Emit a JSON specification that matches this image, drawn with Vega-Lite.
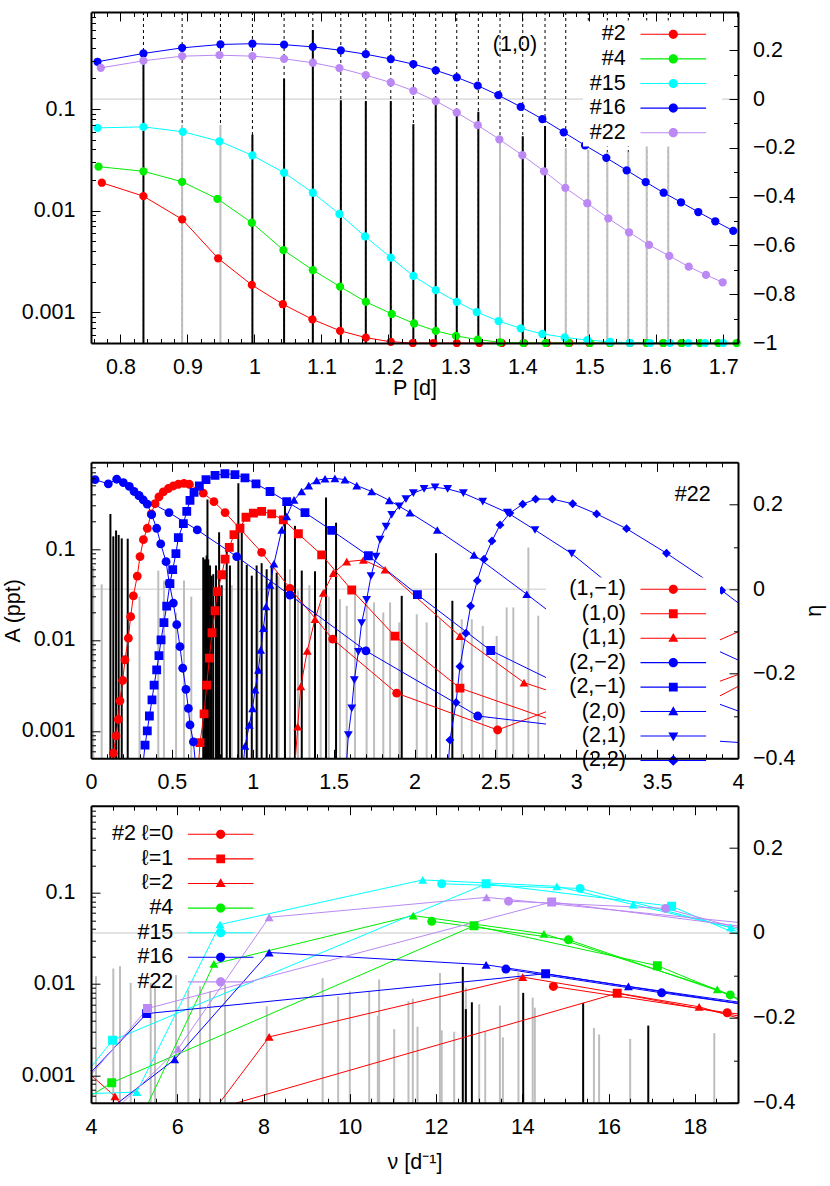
{
  "$schema": "https://vega.github.io/schema/vega-lite/v6.json",
  "background": "white",
  "padding": {"left": 2, "top": 11, "right": 2, "bottom": 2},
  "config": {
    "font": "Liberation Sans",
    "view": {"stroke": null},
    "axis": {"labelFont": "Liberation Sans", "labelFontSize": 21.5, "labelColor": "#000", "titleFont": "Liberation Sans", "titleFontSize": 21.5, "titleFontWeight": "normal", "titleColor": "#000", "tickColor": "#000", "tickWidth": 1, "domainColor": "#000", "domainWidth": 2, "grid": false, "labelFlush": false, "labelOverlap": false},
    "legend": {"labelFont": "Liberation Sans", "labelFontSize": 21.5, "labelColor": "#000"}
  },
  "datasets": {
    "top_amp": [
      {"P": 0.8921, "A": 0.07, "k": "g"}, {"P": 0.9493, "A": 0.07, "k": "g"}, {"P": 1.3667, "A": 0.054, "k": "g"}, {"P": 1.4648, "A": 0.041, "k": "g"}, {"P": 1.4985, "A": 0.04, "k": "g"}, {"P": 1.5269, "A": 0.038, "k": "g"}, {"P": 1.5582, "A": 0.038, "k": "g"}, {"P": 1.5857, "A": 0.046, "k": "g"}, {"P": 1.6179, "A": 0.052, "k": "g"},
      {"P": 0.8343, "A": 0.3, "k": "b"}, {"P": 0.997, "A": 0.056, "k": "b"}, {"P": 1.0443, "A": 0.198, "k": "b"}, {"P": 1.0872, "A": 0.6, "k": "b"}, {"P": 1.129, "A": 0.122, "k": "b"}, {"P": 1.1663, "A": 0.12, "k": "b"}, {"P": 1.2036, "A": 0.12, "k": "b"}, {"P": 1.2373, "A": 0.071, "k": "b"}, {"P": 1.2707, "A": 0.132, "k": "b"}, {"P": 1.3021, "A": 0.087, "k": "b"}, {"P": 1.3343, "A": 0.094, "k": "b"}, {"P": 1.4006, "A": 0.054, "k": "b"}, {"P": 1.4339, "A": 0.068, "k": "b"}
    ],
    "top_eta": [
      {"m": "#2", "P": 0.7722, "e": -0.343}, {"m": "#2", "P": 0.8343, "e": -0.398}, {"m": "#2", "P": 0.8921, "e": -0.493}, {"m": "#2", "P": 0.9458, "e": -0.653}, {"m": "#2", "P": 0.9961, "e": -0.762}, {"m": "#2", "P": 1.0424, "e": -0.841}, {"m": "#2", "P": 1.0866, "e": -0.903}, {"m": "#2", "P": 1.1279, "e": -0.95}, {"m": "#2", "P": 1.1663, "e": -0.978}, {"m": "#2", "P": 1.2036, "e": -0.995}, {"m": "#2", "P": 1.2364, "e": -1}, {"m": "#2", "P": 1.2672, "e": -1}, {"m": "#2", "P": 1.3021, "e": -1}, {"m": "#2", "P": 1.3358, "e": -1}, {"m": "#2", "P": 1.3693, "e": -1}, {"m": "#2", "P": 1.4025, "e": -1}, {"m": "#2", "P": 1.4364, "e": -1}, {"m": "#2", "P": 1.4701, "e": -1}, {"m": "#2", "P": 1.5, "e": -1}, {"m": "#2", "P": 1.5309, "e": -1}, {"m": "#2", "P": 1.5607, "e": -1}, {"m": "#2", "P": 1.5857, "e": -1}, {"m": "#2", "P": 1.6104, "e": -1}, {"m": "#2", "P": 1.6379, "e": -1},
      {"m": "#4", "P": 0.7672, "e": -0.277}, {"m": "#4", "P": 0.8343, "e": -0.296}, {"m": "#4", "P": 0.8921, "e": -0.339}, {"m": "#4", "P": 0.9448, "e": -0.409}, {"m": "#4", "P": 0.9961, "e": -0.507}, {"m": "#4", "P": 1.0433, "e": -0.619}, {"m": "#4", "P": 1.0872, "e": -0.701}, {"m": "#4", "P": 1.1279, "e": -0.769}, {"m": "#4", "P": 1.1663, "e": -0.831}, {"m": "#4", "P": 1.2051, "e": -0.881}, {"m": "#4", "P": 1.2384, "e": -0.92}, {"m": "#4", "P": 1.2707, "e": -0.95}, {"m": "#4", "P": 1.301, "e": -0.971}, {"m": "#4", "P": 1.3334, "e": -0.986}, {"m": "#4", "P": 1.3667, "e": -0.997}, {"m": "#4", "P": 1.4015, "e": -1}, {"m": "#4", "P": 1.4349, "e": -1}, {"m": "#4", "P": 1.4687, "e": -1}, {"m": "#4", "P": 1.501, "e": -1}, {"m": "#4", "P": 1.5309, "e": -1}, {"m": "#4", "P": 1.5607, "e": -1}, {"m": "#4", "P": 1.5857, "e": -1}, {"m": "#4", "P": 1.6104, "e": -1}, {"m": "#4", "P": 1.6379, "e": -1}, {"m": "#4", "P": 1.6652, "e": -1}, {"m": "#4", "P": 1.6925, "e": -1}, {"m": "#4", "P": 1.72, "e": -1},
      {"m": "#15", "P": 0.7657, "e": -0.118}, {"m": "#15", "P": 0.8343, "e": -0.114}, {"m": "#15", "P": 0.8931, "e": -0.134}, {"m": "#15", "P": 0.9478, "e": -0.173}, {"m": "#15", "P": 0.997, "e": -0.231}, {"m": "#15", "P": 1.0443, "e": -0.302}, {"m": "#15", "P": 1.0872, "e": -0.384}, {"m": "#15", "P": 1.1269, "e": -0.471}, {"m": "#15", "P": 1.1652, "e": -0.563}, {"m": "#15", "P": 1.2036, "e": -0.65}, {"m": "#15", "P": 1.2373, "e": -0.725}, {"m": "#15", "P": 1.2707, "e": -0.783}, {"m": "#15", "P": 1.3021, "e": -0.831}, {"m": "#15", "P": 1.3319, "e": -0.873}, {"m": "#15", "P": 1.3645, "e": -0.91}, {"m": "#15", "P": 1.3976, "e": -0.94}, {"m": "#15", "P": 1.4299, "e": -0.963}, {"m": "#15", "P": 1.4633, "e": -0.977}, {"m": "#15", "P": 1.497, "e": -0.988}, {"m": "#15", "P": 1.5309, "e": -0.995}, {"m": "#15", "P": 1.5607, "e": -0.999}, {"m": "#15", "P": 1.5906, "e": -1}, {"m": "#15", "P": 1.6204, "e": -1}, {"m": "#15", "P": 1.6478, "e": -1}, {"m": "#15", "P": 1.6727, "e": -1}, {"m": "#15", "P": 1.7, "e": -1},
      {"m": "#16", "P": 0.7657, "e": 0.153}, {"m": "#16", "P": 0.8343, "e": 0.187}, {"m": "#16", "P": 0.8921, "e": 0.21}, {"m": "#16", "P": 0.9493, "e": 0.224}, {"m": "#16", "P": 0.997, "e": 0.227}, {"m": "#16", "P": 1.0443, "e": 0.223}, {"m": "#16", "P": 1.0872, "e": 0.214}, {"m": "#16", "P": 1.129, "e": 0.2}, {"m": "#16", "P": 1.1663, "e": 0.184}, {"m": "#16", "P": 1.2036, "e": 0.164}, {"m": "#16", "P": 1.2373, "e": 0.143}, {"m": "#16", "P": 1.2707, "e": 0.118}, {"m": "#16", "P": 1.3021, "e": 0.089}, {"m": "#16", "P": 1.3334, "e": 0.055}, {"m": "#16", "P": 1.3642, "e": 0.016}, {"m": "#16", "P": 1.3976, "e": -0.032}, {"m": "#16", "P": 1.4299, "e": -0.082}, {"m": "#16", "P": 1.4618, "e": -0.136}, {"m": "#16", "P": 1.4936, "e": -0.19}, {"m": "#16", "P": 1.5254, "e": -0.241}, {"m": "#16", "P": 1.5558, "e": -0.292}, {"m": "#16", "P": 1.5842, "e": -0.34}, {"m": "#16", "P": 1.611, "e": -0.384}, {"m": "#16", "P": 1.6369, "e": -0.423}, {"m": "#16", "P": 1.6627, "e": -0.463}, {"m": "#16", "P": 1.6881, "e": -0.501}, {"m": "#16", "P": 1.7149, "e": -0.54},
      {"m": "#22", "P": 0.7707, "e": 0.128}, {"m": "#22", "P": 0.8343, "e": 0.157}, {"m": "#22", "P": 0.8921, "e": 0.176}, {"m": "#22", "P": 0.9478, "e": 0.18}, {"m": "#22", "P": 0.997, "e": 0.176}, {"m": "#22", "P": 1.0443, "e": 0.165}, {"m": "#22", "P": 1.0872, "e": 0.149}, {"m": "#22", "P": 1.1269, "e": 0.127}, {"m": "#22", "P": 1.1663, "e": 0.098}, {"m": "#22", "P": 1.2036, "e": 0.068}, {"m": "#22", "P": 1.2373, "e": 0.034}, {"m": "#22", "P": 1.2707, "e": -0.008}, {"m": "#22", "P": 1.3021, "e": -0.055}, {"m": "#22", "P": 1.3334, "e": -0.107}, {"m": "#22", "P": 1.3657, "e": -0.165}, {"m": "#22", "P": 1.4, "e": -0.23}, {"m": "#22", "P": 1.4324, "e": -0.296}, {"m": "#22", "P": 1.4642, "e": -0.364}, {"m": "#22", "P": 1.497, "e": -0.427}, {"m": "#22", "P": 1.5284, "e": -0.489}, {"m": "#22", "P": 1.5593, "e": -0.546}, {"m": "#22", "P": 1.5891, "e": -0.598}, {"m": "#22", "P": 1.6194, "e": -0.643}, {"m": "#22", "P": 1.6484, "e": -0.687}, {"m": "#22", "P": 1.6742, "e": -0.721}, {"m": "#22", "P": 1.6991, "e": -0.751}
    ],
    "mid_amp": [
      {"n": 0.014, "A": 0.065, "k": "g"}, {"n": 0.066, "A": 0.041, "k": "g"}, {"n": 0.3, "A": 0.03, "k": "g"}, {"n": 0.416, "A": 0.058, "k": "g"}, {"n": 0.451, "A": 0.045, "k": "g"}, {"n": 0.526, "A": 0.02, "k": "g"}, {"n": 0.575, "A": 0.045, "k": "g"}, {"n": 0.62, "A": 0.03, "k": "g"}, {"n": 0.87, "A": 0.04, "k": "g"}, {"n": 1.03, "A": 0.035, "k": "g"}, {"n": 1.16, "A": 0.05, "k": "g"}, {"n": 1.23, "A": 0.06, "k": "g"}, {"n": 1.28, "A": 0.035, "k": "g"}, {"n": 1.35, "A": 0.04, "k": "g"}, {"n": 1.42, "A": 0.025, "k": "g"}, {"n": 1.47, "A": 0.03, "k": "g"}, {"n": 1.539, "A": 0.0281, "k": "g"}, {"n": 1.581, "A": 0.0238, "k": "g"}, {"n": 1.632, "A": 0.0333, "k": "g"}, {"n": 1.704, "A": 0.0306, "k": "g"}, {"n": 1.75, "A": 0.0259, "k": "g"}, {"n": 1.807, "A": 0.0201, "k": "g"}, {"n": 1.849, "A": 0.0259, "k": "g"}, {"n": 1.906, "A": 0.0156, "k": "g"}, {"n": 2.014, "A": 0.0192, "k": "g"}, {"n": 2.075, "A": 0.0156, "k": "g"}, {"n": 2.158, "A": 0.0169, "k": "g"}, {"n": 2.292, "A": 0.0169, "k": "g"}, {"n": 2.354, "A": 0.0169, "k": "g"}, {"n": 2.422, "A": 0.0143, "k": "g"}, {"n": 2.508, "A": 0.0111, "k": "g"}, {"n": 2.57, "A": 0.0228, "k": "g"}, {"n": 2.611, "A": 0.0228, "k": "g"}, {"n": 2.704, "A": 0.104, "k": "g"}, {"n": 2.765, "A": 0.0185, "k": "g"},
      {"n": 0.12, "A": 0.243, "k": "b"}, {"n": 0.138, "A": 0.138, "k": "b"}, {"n": 0.155, "A": 0.16, "k": "b"}, {"n": 0.171, "A": 0.143, "k": "b"}, {"n": 0.19, "A": 0.131, "k": "b"}, {"n": 0.227, "A": 0.13, "k": "b"}, {"n": 0.694, "A": 0.081, "k": "b"}, {"n": 0.705, "A": 0.077, "k": "b"}, {"n": 0.715, "A": 0.085, "k": "b"}, {"n": 0.72, "A": 0.35, "k": "b"}, {"n": 0.725, "A": 0.077, "k": "b"}, {"n": 0.736, "A": 0.066, "k": "b"}, {"n": 0.746, "A": 0.051, "k": "b"}, {"n": 0.756, "A": 0.053, "k": "b"}, {"n": 0.773, "A": 0.066, "k": "b"}, {"n": 0.785, "A": 0.037, "k": "b"}, {"n": 0.792, "A": 0.153, "k": "b"}, {"n": 0.808, "A": 0.04, "k": "b"}, {"n": 0.839, "A": 0.1, "k": "b"}, {"n": 0.859, "A": 0.066, "k": "b"}, {"n": 0.911, "A": 0.53, "k": "b"}, {"n": 0.932, "A": 0.153, "k": "b"}, {"n": 0.963, "A": 0.067, "k": "b"}, {"n": 0.994, "A": 0.051, "k": "b"}, {"n": 1.024, "A": 0.066, "k": "b"}, {"n": 1.055, "A": 0.07, "k": "b"}, {"n": 1.086, "A": 0.06, "k": "b"}, {"n": 1.117, "A": 0.066, "k": "b"}, {"n": 1.148, "A": 0.055, "k": "b"}, {"n": 1.199, "A": 0.3, "k": "b"}, {"n": 1.261, "A": 0.18, "k": "b"}, {"n": 1.303, "A": 0.058, "k": "b"}, {"n": 1.385, "A": 0.057, "k": "b"}, {"n": 1.453, "A": 0.37, "k": "b"}, {"n": 1.515, "A": 0.195, "k": "b"}, {"n": 1.921, "A": 0.0306, "k": "b"}, {"n": 2.133, "A": 0.09, "k": "b"}, {"n": 2.234, "A": 0.027, "k": "b"}
    ],
    "mid_eta": [
      {"o": "(1,−1)", "s": "m1", "n": 0.125, "e": -0.43}, {"o": "(1,−1)", "s": "m1", "n": 0.138, "e": -0.388}, {"o": "(1,−1)", "s": "m1", "n": 0.155, "e": -0.347}, {"o": "(1,−1)", "s": "m1", "n": 0.169, "e": -0.308}, {"o": "(1,−1)", "s": "m1", "n": 0.179, "e": -0.264}, {"o": "(1,−1)", "s": "m1", "n": 0.196, "e": -0.216}, {"o": "(1,−1)", "s": "m1", "n": 0.21, "e": -0.167}, {"o": "(1,−1)", "s": "m1", "n": 0.231, "e": -0.116}, {"o": "(1,−1)", "s": "m1", "n": 0.245, "e": -0.065}, {"o": "(1,−1)", "s": "m1", "n": 0.262, "e": -0.016}, {"o": "(1,−1)", "s": "m1", "n": 0.286, "e": 0.031}, {"o": "(1,−1)", "s": "m1", "n": 0.303, "e": 0.077}, {"o": "(1,−1)", "s": "m1", "n": 0.324, "e": 0.117}, {"o": "(1,−1)", "s": "m1", "n": 0.348, "e": 0.144}, {"o": "(1,−1)", "s": "m1", "n": 0.372, "e": 0.178}, {"o": "(1,−1)", "s": "m1", "n": 0.396, "e": 0.202}, {"o": "(1,−1)", "s": "m1", "n": 0.42, "e": 0.218}, {"o": "(1,−1)", "s": "m1", "n": 0.447, "e": 0.23}, {"o": "(1,−1)", "s": "m1", "n": 0.478, "e": 0.238}, {"o": "(1,−1)", "s": "m1", "n": 0.509, "e": 0.244}, {"o": "(1,−1)", "s": "m1", "n": 0.54, "e": 0.248}, {"o": "(1,−1)", "s": "m1", "n": 0.575, "e": 0.25}, {"o": "(1,−1)", "s": "m1", "n": 0.608, "e": 0.248}, {"o": "(1,−1)", "s": "m1", "n": 0.694, "e": 0.227}, {"o": "(1,−1)", "s": "m1", "n": 0.76, "e": 0.207}, {"o": "(1,−1)", "s": "m1", "n": 0.829, "e": 0.181}, {"o": "(1,−1)", "s": "m1", "n": 1.055, "e": 0.087}, {"o": "(1,−1)", "s": "m1", "n": 1.23, "e": 0.002}, {"o": "(1,−1)", "s": "m1", "n": 1.494, "e": -0.118}, {"o": "(1,−1)", "s": "m1", "n": 1.89, "e": -0.246}, {"o": "(1,−1)", "s": "m1", "n": 2.514, "e": -0.333}, {"o": "(1,−1)", "s": "m1", "n": 3.3, "e": -0.22}, {"o": "(1,−1)", "s": "m1", "n": 4.3, "e": -0.05},
      {"o": "(1,0)", "s": "m2", "n": 0.662, "e": -0.43}, {"o": "(1,0)", "s": "m2", "n": 0.674, "e": -0.363}, {"o": "(1,0)", "s": "m2", "n": 0.699, "e": -0.295}, {"o": "(1,0)", "s": "m2", "n": 0.715, "e": -0.227}, {"o": "(1,0)", "s": "m2", "n": 0.732, "e": -0.163}, {"o": "(1,0)", "s": "m2", "n": 0.748, "e": -0.103}, {"o": "(1,0)", "s": "m2", "n": 0.767, "e": -0.051}, {"o": "(1,0)", "s": "m2", "n": 0.781, "e": -0.006}, {"o": "(1,0)", "s": "m2", "n": 0.808, "e": 0.034}, {"o": "(1,0)", "s": "m2", "n": 0.829, "e": 0.071}, {"o": "(1,0)", "s": "m2", "n": 0.855, "e": 0.099}, {"o": "(1,0)", "s": "m2", "n": 0.884, "e": 0.129}, {"o": "(1,0)", "s": "m2", "n": 0.921, "e": 0.144}, {"o": "(1,0)", "s": "m2", "n": 0.958, "e": 0.17}, {"o": "(1,0)", "s": "m2", "n": 1.004, "e": 0.18}, {"o": "(1,0)", "s": "m2", "n": 1.055, "e": 0.184}, {"o": "(1,0)", "s": "m2", "n": 1.117, "e": 0.178}, {"o": "(1,0)", "s": "m2", "n": 1.189, "e": 0.164}, {"o": "(1,0)", "s": "m2", "n": 1.282, "e": 0.131}, {"o": "(1,0)", "s": "m2", "n": 1.426, "e": 0.081}, {"o": "(1,0)", "s": "m2", "n": 1.612, "e": -0.002}, {"o": "(1,0)", "s": "m2", "n": 1.879, "e": -0.111}, {"o": "(1,0)", "s": "m2", "n": 2.281, "e": -0.234}, {"o": "(1,0)", "s": "m2", "n": 3.3, "e": -0.37}, {"o": "(1,0)", "s": "m2", "n": 4.3, "e": -0.17},
      {"o": "(1,1)", "s": "m3", "n": 1.26, "e": -0.42}, {"o": "(1,1)", "s": "m3", "n": 1.278, "e": -0.325}, {"o": "(1,1)", "s": "m3", "n": 1.297, "e": -0.23}, {"o": "(1,1)", "s": "m3", "n": 1.337, "e": -0.146}, {"o": "(1,1)", "s": "m3", "n": 1.385, "e": -0.071}, {"o": "(1,1)", "s": "m3", "n": 1.436, "e": -0.009}, {"o": "(1,1)", "s": "m3", "n": 1.498, "e": 0.038}, {"o": "(1,1)", "s": "m3", "n": 1.581, "e": 0.065}, {"o": "(1,1)", "s": "m3", "n": 1.684, "e": 0.069}, {"o": "(1,1)", "s": "m3", "n": 1.818, "e": 0.046}, {"o": "(1,1)", "s": "m3", "n": 2.281, "e": -0.111}, {"o": "(1,1)", "s": "m3", "n": 2.677, "e": -0.221}, {"o": "(1,1)", "s": "m3", "n": 3.3, "e": -0.3}, {"o": "(1,1)", "s": "m3", "n": 4.3, "e": -0.16},
      {"o": "(2,−2)", "s": "m4a", "n": 0.025, "e": 0.259}, {"o": "(2,−2)", "s": "m4a", "n": 0.107, "e": 0.249}, {"o": "(2,−2)", "s": "m4a", "n": 0.159, "e": 0.26}, {"o": "(2,−2)", "s": "m4a", "n": 0.2, "e": 0.252}, {"o": "(2,−2)", "s": "m4a", "n": 0.237, "e": 0.243}, {"o": "(2,−2)", "s": "m4a", "n": 0.266, "e": 0.231}, {"o": "(2,−2)", "s": "m4a", "n": 0.297, "e": 0.221}, {"o": "(2,−2)", "s": "m4a", "n": 0.323, "e": 0.211}, {"o": "(2,−2)", "s": "m4a", "n": 0.348, "e": 0.201}, {"o": "(2,−2)", "s": "m4a", "n": 0.375, "e": 0.176}, {"o": "(2,−2)", "s": "m4a", "n": 0.406, "e": 0.144}, {"o": "(2,−2)", "s": "m4a", "n": 0.431, "e": 0.107}, {"o": "(2,−2)", "s": "m4a", "n": 0.464, "e": 0.065}, {"o": "(2,−2)", "s": "m4a", "n": 0.484, "e": 0.014}, {"o": "(2,−2)", "s": "m4a", "n": 0.509, "e": -0.033}, {"o": "(2,−2)", "s": "m4a", "n": 0.53, "e": -0.084}, {"o": "(2,−2)", "s": "m4a", "n": 0.55, "e": -0.136}, {"o": "(2,−2)", "s": "m4a", "n": 0.567, "e": -0.187}, {"o": "(2,−2)", "s": "m4a", "n": 0.587, "e": -0.237}, {"o": "(2,−2)", "s": "m4a", "n": 0.602, "e": -0.282}, {"o": "(2,−2)", "s": "m4a", "n": 0.612, "e": -0.321}, {"o": "(2,−2)", "s": "m4a", "n": 0.633, "e": -0.361}, {"o": "(2,−2)", "s": "m4a", "n": 0.65, "e": -0.43},
      {"o": "(2,−2)", "s": "m4b", "n": 0.482, "e": 0.181}, {"o": "(2,−2)", "s": "m4b", "n": 0.657, "e": 0.14}, {"o": "(2,−2)", "s": "m4b", "n": 0.901, "e": 0.077}, {"o": "(2,−2)", "s": "m4b", "n": 1.23, "e": -0.014}, {"o": "(2,−2)", "s": "m4b", "n": 1.7, "e": -0.146}, {"o": "(2,−2)", "s": "m4b", "n": 2.391, "e": -0.3}, {"o": "(2,−2)", "s": "m4b", "n": 3.5, "e": -0.35}, {"o": "(2,−2)", "s": "m4b", "n": 4.3, "e": -0.37}, {"o": "(2,−2)", "s": "m4b", "n": 0.297, "e": 0.221},
      {"o": "(2,−1)", "s": "m5", "n": 0.32, "e": -0.42}, {"o": "(2,−1)", "s": "m5", "n": 0.334, "e": -0.369}, {"o": "(2,−1)", "s": "m5", "n": 0.348, "e": -0.335}, {"o": "(2,−1)", "s": "m5", "n": 0.361, "e": -0.3}, {"o": "(2,−1)", "s": "m5", "n": 0.377, "e": -0.262}, {"o": "(2,−1)", "s": "m5", "n": 0.39, "e": -0.227}, {"o": "(2,−1)", "s": "m5", "n": 0.406, "e": -0.191}, {"o": "(2,−1)", "s": "m5", "n": 0.42, "e": -0.157}, {"o": "(2,−1)", "s": "m5", "n": 0.433, "e": -0.12}, {"o": "(2,−1)", "s": "m5", "n": 0.451, "e": -0.079}, {"o": "(2,−1)", "s": "m5", "n": 0.468, "e": -0.04}, {"o": "(2,−1)", "s": "m5", "n": 0.488, "e": 0.013}, {"o": "(2,−1)", "s": "m5", "n": 0.505, "e": 0.046}, {"o": "(2,−1)", "s": "m5", "n": 0.525, "e": 0.084}, {"o": "(2,−1)", "s": "m5", "n": 0.54, "e": 0.122}, {"o": "(2,−1)", "s": "m5", "n": 0.571, "e": 0.155}, {"o": "(2,−1)", "s": "m5", "n": 0.592, "e": 0.184}, {"o": "(2,−1)", "s": "m5", "n": 0.612, "e": 0.21}, {"o": "(2,−1)", "s": "m5", "n": 0.637, "e": 0.229}, {"o": "(2,−1)", "s": "m5", "n": 0.67, "e": 0.244}, {"o": "(2,−1)", "s": "m5", "n": 0.711, "e": 0.259}, {"o": "(2,−1)", "s": "m5", "n": 0.767, "e": 0.269}, {"o": "(2,−1)", "s": "m5", "n": 0.828, "e": 0.273}, {"o": "(2,−1)", "s": "m5", "n": 0.89, "e": 0.271}, {"o": "(2,−1)", "s": "m5", "n": 0.952, "e": 0.263}, {"o": "(2,−1)", "s": "m5", "n": 1.02, "e": 0.249}, {"o": "(2,−1)", "s": "m5", "n": 1.107, "e": 0.231}, {"o": "(2,−1)", "s": "m5", "n": 1.21, "e": 0.207}, {"o": "(2,−1)", "s": "m5", "n": 1.323, "e": 0.181}, {"o": "(2,−1)", "s": "m5", "n": 1.488, "e": 0.139}, {"o": "(2,−1)", "s": "m5", "n": 1.715, "e": 0.079}, {"o": "(2,−1)", "s": "m5", "n": 2.018, "e": -0.013}, {"o": "(2,−1)", "s": "m5", "n": 2.471, "e": -0.145}, {"o": "(2,−1)", "s": "m5", "n": 3.3, "e": -0.3}, {"o": "(2,−1)", "s": "m5", "n": 4.3, "e": -0.5},
      {"o": "(2,0)", "s": "m6", "n": 0.94, "e": -0.42}, {"o": "(2,0)", "s": "m6", "n": 0.952, "e": -0.371}, {"o": "(2,0)", "s": "m6", "n": 0.979, "e": -0.321}, {"o": "(2,0)", "s": "m6", "n": 0.999, "e": -0.282}, {"o": "(2,0)", "s": "m6", "n": 1.014, "e": -0.238}, {"o": "(2,0)", "s": "m6", "n": 1.035, "e": -0.191}, {"o": "(2,0)", "s": "m6", "n": 1.049, "e": -0.144}, {"o": "(2,0)", "s": "m6", "n": 1.066, "e": -0.092}, {"o": "(2,0)", "s": "m6", "n": 1.082, "e": -0.041}, {"o": "(2,0)", "s": "m6", "n": 1.107, "e": 0.01}, {"o": "(2,0)", "s": "m6", "n": 1.131, "e": 0.06}, {"o": "(2,0)", "s": "m6", "n": 1.179, "e": 0.14}, {"o": "(2,0)", "s": "m6", "n": 1.21, "e": 0.172}, {"o": "(2,0)", "s": "m6", "n": 1.255, "e": 0.211}, {"o": "(2,0)", "s": "m6", "n": 1.302, "e": 0.231}, {"o": "(2,0)", "s": "m6", "n": 1.346, "e": 0.245}, {"o": "(2,0)", "s": "m6", "n": 1.395, "e": 0.257}, {"o": "(2,0)", "s": "m6", "n": 1.447, "e": 0.261}, {"o": "(2,0)", "s": "m6", "n": 1.508, "e": 0.262}, {"o": "(2,0)", "s": "m6", "n": 1.57, "e": 0.259}, {"o": "(2,0)", "s": "m6", "n": 1.643, "e": 0.245}, {"o": "(2,0)", "s": "m6", "n": 1.735, "e": 0.231}, {"o": "(2,0)", "s": "m6", "n": 1.844, "e": 0.21}, {"o": "(2,0)", "s": "m6", "n": 1.972, "e": 0.181}, {"o": "(2,0)", "s": "m6", "n": 2.141, "e": 0.14}, {"o": "(2,0)", "s": "m6", "n": 2.368, "e": 0.081}, {"o": "(2,0)", "s": "m6", "n": 2.694, "e": -0.012}, {"o": "(2,0)", "s": "m6", "n": 3.3, "e": -0.19}, {"o": "(2,0)", "s": "m6", "n": 4.3, "e": -0.33},
      {"o": "(2,1)", "s": "m7", "n": 1.578, "e": -0.42}, {"o": "(2,1)", "s": "m7", "n": 1.591, "e": -0.345}, {"o": "(2,1)", "s": "m7", "n": 1.612, "e": -0.282}, {"o": "(2,1)", "s": "m7", "n": 1.628, "e": -0.215}, {"o": "(2,1)", "s": "m7", "n": 1.653, "e": -0.148}, {"o": "(2,1)", "s": "m7", "n": 1.673, "e": -0.08}, {"o": "(2,1)", "s": "m7", "n": 1.704, "e": -0.025}, {"o": "(2,1)", "s": "m7", "n": 1.731, "e": 0.031}, {"o": "(2,1)", "s": "m7", "n": 1.762, "e": 0.077}, {"o": "(2,1)", "s": "m7", "n": 1.787, "e": 0.117}, {"o": "(2,1)", "s": "m7", "n": 1.824, "e": 0.148}, {"o": "(2,1)", "s": "m7", "n": 1.859, "e": 0.176}, {"o": "(2,1)", "s": "m7", "n": 1.906, "e": 0.196}, {"o": "(2,1)", "s": "m7", "n": 1.947, "e": 0.213}, {"o": "(2,1)", "s": "m7", "n": 1.993, "e": 0.227}, {"o": "(2,1)", "s": "m7", "n": 2.059, "e": 0.237}, {"o": "(2,1)", "s": "m7", "n": 2.127, "e": 0.241}, {"o": "(2,1)", "s": "m7", "n": 2.205, "e": 0.237}, {"o": "(2,1)", "s": "m7", "n": 2.302, "e": 0.227}, {"o": "(2,1)", "s": "m7", "n": 2.422, "e": 0.207}, {"o": "(2,1)", "s": "m7", "n": 2.574, "e": 0.181}, {"o": "(2,1)", "s": "m7", "n": 2.745, "e": 0.14}, {"o": "(2,1)", "s": "m7", "n": 2.972, "e": 0.084}, {"o": "(2,1)", "s": "m7", "n": 3.5, "e": -0.08}, {"o": "(2,1)", "s": "m7", "n": 4.3, "e": -0.22},
      {"o": "(2,2)", "s": "m8", "n": 2.205, "e": -0.44}, {"o": "(2,2)", "s": "m8", "n": 2.219, "e": -0.357}, {"o": "(2,2)", "s": "m8", "n": 2.257, "e": -0.268}, {"o": "(2,2)", "s": "m8", "n": 2.281, "e": -0.183}, {"o": "(2,2)", "s": "m8", "n": 2.318, "e": -0.104}, {"o": "(2,2)", "s": "m8", "n": 2.347, "e": -0.04}, {"o": "(2,2)", "s": "m8", "n": 2.388, "e": 0.02}, {"o": "(2,2)", "s": "m8", "n": 2.43, "e": 0.071}, {"o": "(2,2)", "s": "m8", "n": 2.479, "e": 0.114}, {"o": "(2,2)", "s": "m8", "n": 2.529, "e": 0.152}, {"o": "(2,2)", "s": "m8", "n": 2.59, "e": 0.18}, {"o": "(2,2)", "s": "m8", "n": 2.669, "e": 0.201}, {"o": "(2,2)", "s": "m8", "n": 2.749, "e": 0.213}, {"o": "(2,2)", "s": "m8", "n": 2.852, "e": 0.213}, {"o": "(2,2)", "s": "m8", "n": 2.978, "e": 0.202}, {"o": "(2,2)", "s": "m8", "n": 3.126, "e": 0.178}, {"o": "(2,2)", "s": "m8", "n": 3.311, "e": 0.143}, {"o": "(2,2)", "s": "m8", "n": 3.558, "e": 0.085}, {"o": "(2,2)", "s": "m8", "n": 3.899, "e": -0.003}, {"o": "(2,2)", "s": "m8", "n": 4.2, "e": -0.09}
    ],
    "bot_amp": [
      {"n": 4.116, "A": 0.0122, "k": "g"}, {"n": 4.517, "A": 0.0148, "k": "g"}, {"n": 4.672, "A": 0.0157, "k": "g"}, {"n": 4.92, "A": 0.0103, "k": "g"}, {"n": 5.384, "A": 0.0103, "k": "g"}, {"n": 5.484, "A": 0.0098, "k": "g"}, {"n": 5.971, "A": 0.0125, "k": "g"}, {"n": 6.256, "A": 0.0087, "k": "g"}, {"n": 6.53, "A": 0.0095, "k": "g"}, {"n": 6.759, "A": 0.0084, "k": "g"}, {"n": 7.107, "A": 0.0099, "k": "g"}, {"n": 8.074, "A": 0.0057, "k": "g"}, {"n": 9.37, "A": 0.0116, "k": "g"}, {"n": 9.73, "A": 0.0073, "k": "g"}, {"n": 10.0, "A": 0.0083, "k": "g"}, {"n": 10.45, "A": 0.0083, "k": "g"}, {"n": 10.65, "A": 0.0045, "k": "g"}, {"n": 10.68, "A": 0.0112, "k": "g"}, {"n": 11.03, "A": 0.0032, "k": "g"}, {"n": 11.36, "A": 0.0065, "k": "g"}, {"n": 11.46, "A": 0.0069, "k": "g"}, {"n": 11.57, "A": 0.0034, "k": "g"}, {"n": 12.09, "A": 0.0132, "k": "g"}, {"n": 12.13, "A": 0.0031, "k": "g"}, {"n": 12.42, "A": 0.003, "k": "g"}, {"n": 12.69, "A": 0.0091, "k": "g"}, {"n": 13.0, "A": 0.006, "k": "g"}, {"n": 13.14, "A": 0.003, "k": "g"}, {"n": 13.48, "A": 0.0058, "k": "g"}, {"n": 13.55, "A": 0.0026, "k": "g"}, {"n": 13.91, "A": 0.0134, "k": "g"}, {"n": 14.24, "A": 0.0071, "k": "g"}, {"n": 14.29, "A": 0.0055, "k": "g"}, {"n": 15.66, "A": 0.0033, "k": "g"}, {"n": 15.78, "A": 0.0028, "k": "g"}, {"n": 16.5, "A": 0.0025, "k": "g"}, {"n": 18.45, "A": 0.0029, "k": "g"},
      {"n": 12.62, "A": 0.0154, "k": "b"}, {"n": 12.69, "A": 0.0053, "k": "b"}, {"n": 12.83, "A": 0.0063, "k": "b"}, {"n": 14.02, "A": 0.008, "k": "b"}, {"n": 15.41, "A": 0.0062, "k": "b"}, {"n": 16.92, "A": 0.0035, "k": "b"}
    ],
    "bot_eta": [
      {"k": "#2 ℓ=0", "l": 0, "s": "2-0", "n": 14.72, "e": -0.126}, {"k": "#2 ℓ=0", "l": 0, "s": "2-0", "n": 18.75, "e": -0.188}, {"k": "#2 ℓ=0", "l": 0, "s": "2-0", "n": 19.5, "e": -0.196},
      {"k": "ℓ=1", "l": 1, "s": "2-1", "n": 5.0, "e": -0.47}, {"k": "ℓ=1", "l": 1, "s": "2-1", "n": 16.2, "e": -0.142}, {"k": "ℓ=1", "l": 1, "s": "2-1", "n": 19.5, "e": -0.205},
      {"k": "ℓ=2", "l": 2, "s": "2-2", "n": 3.5, "e": -0.29}, {"k": "ℓ=2", "l": 2, "s": "2-2", "n": 4.556, "e": -0.385}, {"k": "ℓ=2", "l": 2, "s": "2-2", "n": 5.8, "e": -0.56}, {"k": "ℓ=2", "l": 2, "s": "2-2", "n": 8.13, "e": -0.245}, {"k": "ℓ=2", "l": 2, "s": "2-2", "n": 14.01, "e": -0.104}, {"k": "ℓ=2", "l": 2, "s": "2-2", "n": 18.1, "e": -0.174}, {"k": "ℓ=2", "l": 2, "s": "2-2", "n": 19.5, "e": -0.215},
      {"k": "#4", "l": 0, "s": "4-0", "n": 11.9, "e": 0.0275}, {"k": "#4", "l": 0, "s": "4-0", "n": 15.07, "e": -0.016}, {"k": "#4", "l": 0, "s": "4-0", "n": 18.82, "e": -0.146}, {"k": "#4", "l": 0, "s": "4-0", "n": 19.5, "e": -0.19},
      {"k": "#4", "l": 1, "s": "4-1", "n": 3.5, "e": -0.415}, {"k": "#4", "l": 1, "s": "4-1", "n": 4.48, "e": -0.353}, {"k": "#4", "l": 1, "s": "4-1", "n": 12.88, "e": 0.017}, {"k": "#4", "l": 1, "s": "4-1", "n": 17.13, "e": -0.077}, {"k": "#4", "l": 1, "s": "4-1", "n": 19.5, "e": -0.176},
      {"k": "#4", "l": 2, "s": "4-2", "n": 5.0, "e": -0.471}, {"k": "#4", "l": 2, "s": "4-2", "n": 6.85, "e": -0.073}, {"k": "#4", "l": 2, "s": "4-2", "n": 11.47, "e": 0.041}, {"k": "#4", "l": 2, "s": "4-2", "n": 14.5, "e": -0.002}, {"k": "#4", "l": 2, "s": "4-2", "n": 18.52, "e": -0.133}, {"k": "#4", "l": 2, "s": "4-2", "n": 19.5, "e": -0.178},
      {"k": "#15", "l": 0, "s": "15-0", "n": 12.13, "e": 0.116}, {"k": "#15", "l": 0, "s": "15-0", "n": 15.34, "e": 0.105}, {"k": "#15", "l": 0, "s": "15-0", "n": 19.5, "e": -0.005},
      {"k": "#15", "l": 1, "s": "15-1", "n": 3.5, "e": -0.379}, {"k": "#15", "l": 1, "s": "15-1", "n": 4.5, "e": -0.253}, {"k": "#15", "l": 1, "s": "15-1", "n": 13.16, "e": 0.116}, {"k": "#15", "l": 1, "s": "15-1", "n": 17.46, "e": 0.063}, {"k": "#15", "l": 1, "s": "15-1", "n": 19.5, "e": -0.025},
      {"k": "#15", "l": 2, "s": "15-2", "n": 3.5, "e": -0.38}, {"k": "#15", "l": 2, "s": "15-2", "n": 5.06, "e": -0.375}, {"k": "#15", "l": 2, "s": "15-2", "n": 6.99, "e": 0.02}, {"k": "#15", "l": 2, "s": "15-2", "n": 11.69, "e": 0.125}, {"k": "#15", "l": 2, "s": "15-2", "n": 14.8, "e": 0.11}, {"k": "#15", "l": 2, "s": "15-2", "n": 16.57, "e": 0.067}, {"k": "#15", "l": 2, "s": "15-2", "n": 18.83, "e": 0.013}, {"k": "#15", "l": 2, "s": "15-2", "n": 19.5, "e": -0.04},
      {"k": "#16", "l": 0, "s": "16-0", "n": 13.62, "e": -0.085}, {"k": "#16", "l": 0, "s": "16-0", "n": 17.23, "e": -0.141}, {"k": "#16", "l": 0, "s": "16-0", "n": 19.5, "e": -0.173},
      {"k": "#16", "l": 1, "s": "16-1", "n": 3.5, "e": -0.382}, {"k": "#16", "l": 1, "s": "16-1", "n": 5.29, "e": -0.19}, {"k": "#16", "l": 1, "s": "16-1", "n": 14.54, "e": -0.096}, {"k": "#16", "l": 1, "s": "16-1", "n": 19.5, "e": -0.174},
      {"k": "#16", "l": 2, "s": "16-2", "n": 4.0, "e": -0.449}, {"k": "#16", "l": 2, "s": "16-2", "n": 5.94, "e": -0.298}, {"k": "#16", "l": 2, "s": "16-2", "n": 8.13, "e": -0.046}, {"k": "#16", "l": 2, "s": "16-2", "n": 13.16, "e": -0.075}, {"k": "#16", "l": 2, "s": "16-2", "n": 16.46, "e": -0.126}, {"k": "#16", "l": 2, "s": "16-2", "n": 19.5, "e": -0.17},
      {"k": "#22", "l": 0, "s": "22-0", "n": 13.68, "e": 0.075}, {"k": "#22", "l": 0, "s": "22-0", "n": 17.32, "e": 0.058}, {"k": "#22", "l": 0, "s": "22-0", "n": 19.5, "e": -0.002},
      {"k": "#22", "l": 1, "s": "22-1", "n": 3.5, "e": -0.394}, {"k": "#22", "l": 1, "s": "22-1", "n": 5.31, "e": -0.178}, {"k": "#22", "l": 1, "s": "22-1", "n": 14.68, "e": 0.073}, {"k": "#22", "l": 1, "s": "22-1", "n": 19.5, "e": 0.01},
      {"k": "#22", "l": 2, "s": "22-2", "n": 4.2, "e": -0.453}, {"k": "#22", "l": 2, "s": "22-2", "n": 6.02, "e": -0.273}, {"k": "#22", "l": 2, "s": "22-2", "n": 8.13, "e": 0.037}, {"k": "#22", "l": 2, "s": "22-2", "n": 13.17, "e": 0.084}, {"k": "#22", "l": 2, "s": "22-2", "n": 19.5, "e": 0.02}
    ],
    "mid_leg": [{"o": "(1,−1)"}, {"o": "(1,0)"}, {"o": "(1,1)"}, {"o": "(2,−2)"}, {"o": "(2,−1)"}, {"o": "(2,0)"}, {"o": "(2,1)"}, {"o": "(2,2)"}],
    "bot_leg": [{"k": "#2 ℓ=0"}, {"k": "ℓ=1"}, {"k": "ℓ=2"}, {"k": "#4"}, {"k": "#15"}, {"k": "#16"}, {"k": "#22"}]
  },
  "resolve": {"scale": {"color": "independent", "stroke": "independent", "shape": "independent"}},
  "bounds": "flush",
  "spacing": 119.3,
  "vconcat": [
    {
      "name": "top",
      "width": 647,
      "height": 331,
      "resolve": {"scale": {"y": "independent", "color": "independent"}, "axis": {"x": "independent", "y": "independent"}},
      "layer": [
        {
          "data": {"values": [{}]},
          "mark": {"type": "rule", "color": "#c8c8c8", "strokeWidth": 1},
          "encoding": {
            "y": {"datum": 0, "type": "quantitative", "scale": {"domain": [-1, 0.357], "nice": false, "zero": false}, "axis": {"orient": "right", "values": [-0.9, -0.7, -0.5, -0.3, -0.1, 0.1, 0.3], "labels": false, "tickSize": -4.5, "domain": false, "title": null, "zindex": 1}}
          }
        },
        {
          "data": {"name": "top_amp"},
          "mark": {"type": "rule", "color": "#000", "strokeWidth": 1, "strokeDash": [3, 3]},
          "encoding": {
            "x": {"field": "P", "type": "quantitative", "scale": {"domain": [0.756, 1.722], "nice": false, "zero": false}, "axis": {"orient": "top", "values": [0.8, 0.9, 1, 1.1, 1.2, 1.3, 1.4, 1.5, 1.6, 1.7], "labels": false, "tickSize": -9, "domain": true, "title": null, "zindex": 1}}
          }
        },
        {
          "data": {"name": "top_amp"},
          "mark": {"type": "rule", "strokeWidth": 2},
          "encoding": {
            "x": {"field": "P", "type": "quantitative", "scale": {"domain": [0.756, 1.722], "nice": false, "zero": false}, "axis": {"orient": "bottom", "values": [0.8, 0.9, 1, 1.1, 1.2, 1.3, 1.4, 1.5, 1.6, 1.7], "format": "~g", "tickSize": -9, "labelPadding": 22.4, "title": "P [d]", "titlePadding": 0, "domain": true, "zindex": 1}},
            "y": {"field": "A", "type": "quantitative", "scale": {"type": "log", "domain": [0.0005, 0.9], "nice": false}, "axis": {"orient": "left", "values": [0.001, 0.01, 0.1], "format": "~g", "tickSize": -9, "labelPadding": 25, "title": null, "domain": true, "zindex": 1}},
            "y2": {"datum": 0.0005},
            "stroke": {"field": "k", "type": "nominal", "scale": {"domain": ["g", "b"], "range": ["#bebebe", "#000000"]}, "legend": null}
          }
        },
        {
          "data": {"name": "top_amp"},
          "mark": {"type": "point", "opacity": 0},
          "encoding": {
            "x": {"field": "P", "type": "quantitative", "scale": {"domain": [0.756, 1.722], "nice": false, "zero": false}, "axis": {"orient": "bottom", "values": [0.76, 0.78, 0.82, 0.84, 0.86, 0.88, 0.92, 0.94, 0.96, 0.98, 1.02, 1.04, 1.06, 1.08, 1.12, 1.14, 1.16, 1.18, 1.22, 1.24, 1.26, 1.28, 1.32, 1.34, 1.36, 1.38, 1.42, 1.44, 1.46, 1.48, 1.52, 1.54, 1.56, 1.58, 1.62, 1.64, 1.66, 1.68, 1.72], "labels": false, "tickSize": -4.5, "domain": false, "title": null, "zindex": 1}},
            "y": {"field": "A", "type": "quantitative", "scale": {"type": "log", "domain": [0.0005, 0.9], "nice": false}, "axis": {"orient": "left", "values": [0.0006, 0.0007, 0.0008, 0.0009, 0.002, 0.003, 0.004, 0.005, 0.006, 0.007, 0.008, 0.009, 0.02, 0.03, 0.04, 0.05, 0.06, 0.07, 0.08, 0.09, 0.2, 0.3, 0.4, 0.5, 0.6, 0.7, 0.8], "labels": false, "tickSize": -4.5, "domain": false, "title": null, "zindex": 1}}
          }
        },
        {
          "data": {"name": "top_eta"},
          "mark": {"type": "line", "strokeWidth": 1},
          "encoding": {
            "x": {"field": "P", "type": "quantitative", "scale": {"domain": [0.756, 1.722], "nice": false, "zero": false}, "axis": {"orient": "top", "values": [0.76, 0.78, 0.82, 0.84, 0.86, 0.88, 0.92, 0.94, 0.96, 0.98, 1.02, 1.04, 1.06, 1.08, 1.12, 1.14, 1.16, 1.18, 1.22, 1.24, 1.26, 1.28, 1.32, 1.34, 1.36, 1.38, 1.42, 1.44, 1.46, 1.48, 1.52, 1.54, 1.56, 1.58, 1.62, 1.64, 1.66, 1.68, 1.72], "labels": false, "tickSize": -4.5, "domain": false, "title": null, "zindex": 1}},
            "y": {"field": "e", "type": "quantitative", "scale": {"domain": [-1, 0.357], "nice": false, "zero": false}, "axis": {"orient": "right", "values": [-1, -0.8, -0.6, -0.4, -0.2, 0, 0.2], "format": "~g", "labelExpr": "datum.value >= 0 ? '\u00a0' + datum.label : datum.label", "tickSize": -9, "labelPadding": 23.5, "title": null, "domain": true, "zindex": 1}},
            "color": {"field": "m", "type": "nominal", "scale": {"domain": ["#2", "#4", "#15", "#16", "#22"], "range": ["#ff0000", "#00ee00", "#00ffff", "#0000ff", "#bb88f4"]}, "legend": null}
          }
        },
        {
          "data": {"name": "top_eta"},
          "mark": {"type": "point", "filled": true, "opacity": 1, "size": 68, "strokeWidth": 0},
          "encoding": {
            "x": {"field": "P", "type": "quantitative", "scale": {"domain": [0.756, 1.722], "nice": false, "zero": false}, "axis": null},
            "y": {"field": "e", "type": "quantitative", "scale": {"domain": [-1, 0.357], "nice": false, "zero": false}, "axis": null},
            "color": {"field": "m", "type": "nominal", "scale": {"domain": ["#2", "#4", "#15", "#16", "#22"], "range": ["#ff0000", "#00ee00", "#00ffff", "#0000ff", "#bb88f4"]},
              "legend": {"orient": "none", "legendX": 492, "legendY": 8.55, "title": null, "fillColor": "white", "padding": 3, "rowPadding": 1.6, "symbolSize": 64, "symbolStrokeWidth": 0, "symbolOffset": 76.55, "labelAlign": "right", "labelOffset": -58.35, "labelLimit": 300, "zindex": 0,
                "symbolType": "M-8.2,-0.14H8.2V0.14H-8.2ZM1.15,0A1.15,1.15,0,1,1,-1.15,0A1.15,1.15,0,1,1,1.15,0ZM11.2,0"}}
          }
        },
        {
          "data": {"values": [{"t": "(1,0)"}]},
          "mark": {"type": "text", "font": "Liberation Sans", "fontSize": 21.5, "color": "#000"},
          "encoding": {
            "x": {"datum": 1.389, "type": "quantitative", "scale": {"domain": [0.756, 1.722], "nice": false, "zero": false}, "axis": null},
            "y": {"datum": 0.221, "type": "quantitative", "scale": {"domain": [-1, 0.357], "nice": false, "zero": false}, "axis": null},
            "text": {"field": "t"}
          }
        }
      ]
    },
    {
      "resolve": {"scale": {"color": "independent", "stroke": "independent", "shape": "independent"}},
      "bounds": "flush",
      "spacing": 47.4,
      "vconcat": [
        {
          "name": "mid",
          "width": 647,
          "height": 296,
          "resolve": {"scale": {"y": "independent", "color": "independent", "shape": "independent"}, "axis": {"x": "independent", "y": "independent"}},
          "layer": [
            {
              "data": {"values": [{}]},
              "mark": {"type": "rule", "color": "#c8c8c8", "strokeWidth": 1},
              "encoding": {
                "y": {"datum": 0, "type": "quantitative", "scale": {"domain": [-0.4, 0.3], "nice": false, "zero": false}, "axis": {"orient": "right", "values": [-0.3, -0.1, 0.1], "labels": false, "tickSize": -4.5, "domain": false, "title": null, "zindex": 1}}
              }
            },
            {
              "data": {"name": "mid_amp"},
              "mark": {"type": "rule", "strokeWidth": 2},
              "encoding": {
                "x": {"field": "n", "type": "quantitative", "scale": {"domain": [0, 4], "nice": false, "zero": false}, "axis": {"orient": "bottom", "values": [0, 0.5, 1, 1.5, 2, 2.5, 3, 3.5, 4], "format": "~g", "tickSize": -9, "labelPadding": 22.4, "title": null, "domain": true, "zindex": 1}},
                "y": {"field": "A", "type": "quantitative", "scale": {"type": "log", "domain": [0.0005, 0.9], "nice": false}, "axis": {"orient": "left", "values": [0.001, 0.01, 0.1], "format": "~g", "tickSize": -9, "labelPadding": 25, "title": "A (ppt)", "titlePadding": -3, "domain": true, "zindex": 1}},
                "y2": {"datum": 0.0005},
                "stroke": {"field": "k", "type": "nominal", "scale": {"domain": ["g", "b"], "range": ["#bebebe", "#000000"]}, "legend": null}
              }
            },
            {
              "data": {"name": "mid_amp"},
              "mark": {"type": "point", "opacity": 0},
              "encoding": {
                "x": {"field": "n", "type": "quantitative", "scale": {"domain": [0, 4], "nice": false, "zero": false}, "axis": {"orient": "bottom", "values": [0.1, 0.2, 0.3, 0.4, 0.6, 0.7, 0.8, 0.9, 1.1, 1.2, 1.3, 1.4, 1.6, 1.7, 1.8, 1.9, 2.1, 2.2, 2.3, 2.4, 2.6, 2.7, 2.8, 2.9, 3.1, 3.2, 3.3, 3.4, 3.6, 3.7, 3.8, 3.9], "labels": false, "tickSize": -4.5, "domain": false, "title": null, "zindex": 1}},
                "y": {"field": "A", "type": "quantitative", "scale": {"type": "log", "domain": [0.0005, 0.9], "nice": false}, "axis": {"orient": "left", "values": [0.0006, 0.0007, 0.0008, 0.0009, 0.002, 0.003, 0.004, 0.005, 0.006, 0.007, 0.008, 0.009, 0.02, 0.03, 0.04, 0.05, 0.06, 0.07, 0.08, 0.09, 0.2, 0.3, 0.4, 0.5, 0.6, 0.7, 0.8], "labels": false, "tickSize": -4.5, "domain": false, "title": null, "zindex": 1}}
              }
            },
            {
              "data": {"values": [{}]},
              "mark": {"type": "point", "opacity": 0},
              "encoding": {
                "x": {"datum": 2, "type": "quantitative", "scale": {"domain": [0, 4], "nice": false, "zero": false}, "axis": {"orient": "top", "values": [0, 0.5, 1, 1.5, 2, 2.5, 3, 3.5, 4], "labels": false, "tickSize": -9, "domain": true, "title": null, "zindex": 1}},
                "y": {"datum": 0, "type": "quantitative", "scale": {"domain": [-0.4, 0.3], "nice": false, "zero": false}, "axis": null}
              }
            },
            {
              "data": {"name": "mid_eta"},
              "mark": {"type": "line", "strokeWidth": 1, "clip": true},
              "encoding": {
                "x": {"field": "n", "type": "quantitative", "scale": {"domain": [0, 4], "nice": false, "zero": false}, "axis": {"orient": "top", "values": [0.1, 0.2, 0.3, 0.4, 0.6, 0.7, 0.8, 0.9, 1.1, 1.2, 1.3, 1.4, 1.6, 1.7, 1.8, 1.9, 2.1, 2.2, 2.3, 2.4, 2.6, 2.7, 2.8, 2.9, 3.1, 3.2, 3.3, 3.4, 3.6, 3.7, 3.8, 3.9], "labels": false, "tickSize": -4.5, "domain": false, "title": null, "zindex": 1}},
                "y": {"field": "e", "type": "quantitative", "scale": {"domain": [-0.4, 0.3], "nice": false, "zero": false}, "axis": {"orient": "right", "values": [-0.4, -0.2, 0, 0.2], "format": "~g", "labelExpr": "datum.value >= 0 ? '\u00a0' + datum.label : datum.label", "tickSize": -9, "labelPadding": 23.5, "title": "η", "titleAngle": 270, "titleBaseline": "top", "titlePadding": 9, "domain": true, "zindex": 1}},
                "color": {"field": "o", "type": "nominal", "scale": {"domain": ["(1,−1)", "(1,0)", "(1,1)", "(2,−2)", "(2,−1)", "(2,0)", "(2,1)", "(2,2)"], "range": ["#ff0000", "#ff0000", "#ff0000", "#0000ff", "#0000ff", "#0000ff", "#0000ff", "#0000ff"]}, "legend": null},
                "detail": {"field": "s"}
              }
            },
            {
              "data": {"name": "mid_eta"},
              "mark": {"type": "point", "filled": true, "opacity": 1, "size": 78, "strokeWidth": 0, "clip": true},
              "encoding": {
                "x": {"field": "n", "type": "quantitative", "scale": {"domain": [0, 4], "nice": false, "zero": false}, "axis": null},
                "y": {"field": "e", "type": "quantitative", "scale": {"domain": [-0.4, 0.3], "nice": false, "zero": false}, "axis": null},
                "shape": {"field": "o", "type": "nominal", "scale": {"domain": ["(1,−1)", "(1,0)", "(1,1)", "(2,−2)", "(2,−1)", "(2,0)", "(2,1)", "(2,2)"], "range": ["circle", "square", "triangle-up", "circle", "square", "triangle-up", "triangle-down", "diamond"]}, "legend": null},
                "color": {"field": "o", "type": "nominal", "scale": {"domain": ["(1,−1)", "(1,0)", "(1,1)", "(2,−2)", "(2,−1)", "(2,0)", "(2,1)", "(2,2)"], "range": ["#ff0000", "#ff0000", "#ff0000", "#0000ff", "#0000ff", "#0000ff", "#0000ff", "#0000ff"]}, "legend": null}
              }
            },
            {
              "data": {"name": "mid_leg"},
              "mark": {"type": "point", "filled": true, "opacity": 0, "size": 64},
              "encoding": {
                "x": {"datum": 2, "type": "quantitative", "scale": {"domain": [0, 4], "nice": false, "zero": false}, "axis": null},
                "y": {"datum": 0, "type": "quantitative", "scale": {"domain": [-0.4, 0.3], "nice": false, "zero": false}, "axis": null},
                "shape": {"field": "o", "type": "nominal", "scale": {"domain": ["(1,−1)", "(1,0)", "(1,1)", "(2,−2)", "(2,−1)", "(2,0)", "(2,1)", "(2,2)"], "range": [
                  "M-8.2,-0.14H8.2V0.14H-8.2ZM1.15,0A1.15,1.15,0,1,1,-1.15,0A1.15,1.15,0,1,1,1.15,0ZM11.2,0",
                  "M-8.2,-0.14H8.2V0.14H-8.2ZM-1.1,-1.1H1.1V1.1H-1.1ZM11.2,0",
                  "M-8.2,-0.14H8.2V0.14H-8.2ZM0,-1.3L1.25,0.9L-1.25,0.9ZM11.2,0",
                  "M-8.2,-0.14H8.2V0.14H-8.2ZM1.15,0A1.15,1.15,0,1,1,-1.15,0A1.15,1.15,0,1,1,1.15,0ZM11.2,0",
                  "M-8.2,-0.14H8.2V0.14H-8.2ZM-1.1,-1.1H1.1V1.1H-1.1ZM11.2,0",
                  "M-8.2,-0.14H8.2V0.14H-8.2ZM0,-1.3L1.25,0.9L-1.25,0.9ZM11.2,0",
                  "M-8.2,-0.14H8.2V0.14H-8.2ZM0,1.3L-1.25,-0.9L1.25,-0.9ZM11.2,0",
                  "M-8.2,-0.14H8.2V0.14H-8.2ZM0,-1.35L1.35,0L0,1.35L-1.35,0ZM11.2,0"]},
                  "legend": {"orient": "none", "legendX": 455, "legendY": 115.25, "title": null, "fillColor": "white", "padding": 1, "rowPadding": 1.45, "symbolSize": 64, "symbolStrokeWidth": 0, "symbolOpacity": 1, "symbolOffset": 115.55, "labelAlign": "right", "labelOffset": -58.05, "labelLimit": 300, "zindex": 0}},
                "color": {"field": "o", "type": "nominal", "scale": {"domain": ["(1,−1)", "(1,0)", "(1,1)", "(2,−2)", "(2,−1)", "(2,0)", "(2,1)", "(2,2)"], "range": ["#ff0000", "#ff0000", "#ff0000", "#0000ff", "#0000ff", "#0000ff", "#0000ff", "#0000ff"]},
                  "legend": {"orient": "none", "legendX": 455, "legendY": 115.25, "title": null, "fillColor": "white", "padding": 1, "rowPadding": 1.45, "symbolSize": 64, "symbolStrokeWidth": 0, "symbolOpacity": 1, "symbolOffset": 115.55, "labelAlign": "right", "labelOffset": -58.05, "labelLimit": 300, "zindex": 0}}
              }
            },
            {
              "data": {"values": [{"t": "#22"}]},
              "mark": {"type": "text", "font": "Liberation Sans", "fontSize": 21.5, "color": "#000"},
              "encoding": {
                "x": {"datum": 3.72, "type": "quantitative", "scale": {"domain": [0, 4], "nice": false, "zero": false}, "axis": null},
                "y": {"datum": 0.223, "type": "quantitative", "scale": {"domain": [-0.4, 0.3], "nice": false, "zero": false}, "axis": null},
                "text": {"field": "t"}
              }
            }
          ]
        },
        {
          "name": "bot",
          "width": 647,
          "height": 297,
          "resolve": {"scale": {"y": "independent", "color": "independent", "shape": "independent"}, "axis": {"x": "independent", "y": "independent"}},
          "layer": [
            {
              "data": {"values": [{}]},
              "mark": {"type": "rule", "color": "#c8c8c8", "strokeWidth": 1},
              "encoding": {
                "y": {"datum": 0, "type": "quantitative", "scale": {"domain": [-0.4, 0.3], "nice": false, "zero": false}, "axis": {"orient": "right", "values": [-0.3, -0.1, 0.1], "labels": false, "tickSize": -4.5, "domain": false, "title": null, "zindex": 1}}
              }
            },
            {
              "data": {"name": "bot_amp"},
              "mark": {"type": "rule", "strokeWidth": 2},
              "encoding": {
                "x": {"field": "n", "type": "quantitative", "scale": {"domain": [4, 19], "nice": false, "zero": false}, "axis": {"orient": "bottom", "values": [4, 6, 8, 10, 12, 14, 16, 18], "format": "~g", "tickSize": -9, "labelPadding": 22.4, "title": "ν [d⁻¹]", "titlePadding": 14, "domain": true, "zindex": 1}},
                "y": {"field": "A", "type": "quantitative", "scale": {"type": "log", "domain": [0.0005, 0.9], "nice": false}, "axis": {"orient": "left", "values": [0.001, 0.01, 0.1], "format": "~g", "tickSize": -9, "labelPadding": 25, "title": null, "domain": true, "zindex": 1}},
                "y2": {"datum": 0.0005},
                "stroke": {"field": "k", "type": "nominal", "scale": {"domain": ["g", "b"], "range": ["#bebebe", "#000000"]}, "legend": null}
              }
            },
            {
              "data": {"name": "bot_amp"},
              "mark": {"type": "point", "opacity": 0},
              "encoding": {
                "x": {"field": "n", "type": "quantitative", "scale": {"domain": [4, 19], "nice": false, "zero": false}, "axis": {"orient": "bottom", "values": [4.5, 5, 5.5, 6.5, 7, 7.5, 8.5, 9, 9.5, 10.5, 11, 11.5, 12.5, 13, 13.5, 14.5, 15, 15.5, 16.5, 17, 17.5, 18.5], "labels": false, "tickSize": -4.5, "domain": false, "title": null, "zindex": 1}},
                "y": {"field": "A", "type": "quantitative", "scale": {"type": "log", "domain": [0.0005, 0.9], "nice": false}, "axis": {"orient": "left", "values": [0.0006, 0.0007, 0.0008, 0.0009, 0.002, 0.003, 0.004, 0.005, 0.006, 0.007, 0.008, 0.009, 0.02, 0.03, 0.04, 0.05, 0.06, 0.07, 0.08, 0.09, 0.2, 0.3, 0.4, 0.5, 0.6, 0.7, 0.8], "labels": false, "tickSize": -4.5, "domain": false, "title": null, "zindex": 1}}
              }
            },
            {
              "data": {"values": [{}]},
              "mark": {"type": "point", "opacity": 0},
              "encoding": {
                "x": {"datum": 10, "type": "quantitative", "scale": {"domain": [4, 19], "nice": false, "zero": false}, "axis": {"orient": "top", "values": [4, 6, 8, 10, 12, 14, 16, 18], "labels": false, "tickSize": -9, "domain": true, "title": null, "zindex": 1}},
                "y": {"datum": 0, "type": "quantitative", "scale": {"domain": [-0.4, 0.3], "nice": false, "zero": false}, "axis": null}
              }
            },
            {
              "data": {"name": "bot_eta"},
              "mark": {"type": "line", "strokeWidth": 1, "clip": true},
              "encoding": {
                "x": {"field": "n", "type": "quantitative", "scale": {"domain": [4, 19], "nice": false, "zero": false}, "axis": {"orient": "top", "values": [4.5, 5, 5.5, 6.5, 7, 7.5, 8.5, 9, 9.5, 10.5, 11, 11.5, 12.5, 13, 13.5, 14.5, 15, 15.5, 16.5, 17, 17.5, 18.5], "labels": false, "tickSize": -4.5, "domain": false, "title": null, "zindex": 1}},
                "y": {"field": "e", "type": "quantitative", "scale": {"domain": [-0.4, 0.3], "nice": false, "zero": false}, "axis": {"orient": "right", "values": [-0.4, -0.2, 0, 0.2], "format": "~g", "labelExpr": "datum.value >= 0 ? '\u00a0' + datum.label : datum.label", "tickSize": -9, "labelPadding": 23.5, "title": null, "domain": true, "zindex": 1}},
                "color": {"field": "k", "type": "nominal", "scale": {"domain": ["#2 ℓ=0", "ℓ=1", "ℓ=2", "#4", "#15", "#16", "#22"], "range": ["#ff0000", "#ff0000", "#ff0000", "#00ee00", "#00ffff", "#0000ff", "#bb88f4"]}, "legend": null},
                "detail": {"field": "s"}
              }
            },
            {
              "data": {"name": "bot_eta"},
              "mark": {"type": "point", "filled": true, "opacity": 1, "size": 80, "strokeWidth": 0, "clip": true},
              "encoding": {
                "x": {"field": "n", "type": "quantitative", "scale": {"domain": [4, 19], "nice": false, "zero": false}, "axis": null},
                "y": {"field": "e", "type": "quantitative", "scale": {"domain": [-0.4, 0.3], "nice": false, "zero": false}, "axis": null},
                "shape": {"field": "l", "type": "nominal", "scale": {"domain": [0, 1, 2], "range": ["circle", "square", "triangle-up"]}, "legend": null},
                "color": {"field": "k", "type": "nominal", "scale": {"domain": ["#2 ℓ=0", "ℓ=1", "ℓ=2", "#4", "#15", "#16", "#22"], "range": ["#ff0000", "#ff0000", "#ff0000", "#00ee00", "#00ffff", "#0000ff", "#bb88f4"]}, "legend": null}
              }
            },
            {
              "data": {"name": "bot_leg"},
              "mark": {"type": "point", "filled": true, "opacity": 0, "size": 64},
              "encoding": {
                "x": {"datum": 10, "type": "quantitative", "scale": {"domain": [4, 19], "nice": false, "zero": false}, "axis": null},
                "y": {"datum": 0, "type": "quantitative", "scale": {"domain": [-0.4, 0.3], "nice": false, "zero": false}, "axis": null},
                "shape": {"field": "k", "type": "nominal", "scale": {"domain": ["#2 ℓ=0", "ℓ=1", "ℓ=2", "#4", "#15", "#16", "#22"], "range": [
                  "M-8.2,-0.14H8.2V0.14H-8.2ZM1.15,0A1.15,1.15,0,1,1,-1.15,0A1.15,1.15,0,1,1,1.15,0Z",
                  "M-8.2,-0.14H8.2V0.14H-8.2ZM-1.1,-1.1H1.1V1.1H-1.1Z",
                  "M-8.2,-0.14H8.2V0.14H-8.2ZM0,-1.3L1.25,0.9L-1.25,0.9Z",
                  "M-8.2,-0.14H8.2V0.14H-8.2ZM1.15,0A1.15,1.15,0,1,1,-1.15,0A1.15,1.15,0,1,1,1.15,0Z",
                  "M-8.2,-0.14H8.2V0.14H-8.2ZM1.15,0A1.15,1.15,0,1,1,-1.15,0A1.15,1.15,0,1,1,1.15,0Z",
                  "M-8.2,-0.14H8.2V0.14H-8.2ZM1.15,0A1.15,1.15,0,1,1,-1.15,0A1.15,1.15,0,1,1,1.15,0Z",
                  "M-8.2,-0.14H8.2V0.14H-8.2ZM1.15,0A1.15,1.15,0,1,1,-1.15,0A1.15,1.15,0,1,1,1.15,0Z"]},
                  "legend": {"orient": "none", "legendX": 8, "legendY": 17.85, "title": null, "padding": 0, "rowPadding": 1.6, "symbolSize": 64, "symbolStrokeWidth": 0, "symbolOpacity": 1, "symbolOffset": 110.95, "labelAlign": "right", "labelOffset": -58.15, "labelLimit": 300, "zindex": 0}},
                "color": {"field": "k", "type": "nominal", "scale": {"domain": ["#2 ℓ=0", "ℓ=1", "ℓ=2", "#4", "#15", "#16", "#22"], "range": ["#ff0000", "#ff0000", "#ff0000", "#00ee00", "#00ffff", "#0000ff", "#bb88f4"]},
                  "legend": {"orient": "none", "legendX": 8, "legendY": 17.85, "title": null, "padding": 0, "rowPadding": 1.6, "symbolSize": 64, "symbolStrokeWidth": 0, "symbolOpacity": 1, "symbolOffset": 110.95, "labelAlign": "right", "labelOffset": -58.15, "labelLimit": 300, "zindex": 0}}
              }
            }
          ]
        }
      ]
    }
  ]
}
